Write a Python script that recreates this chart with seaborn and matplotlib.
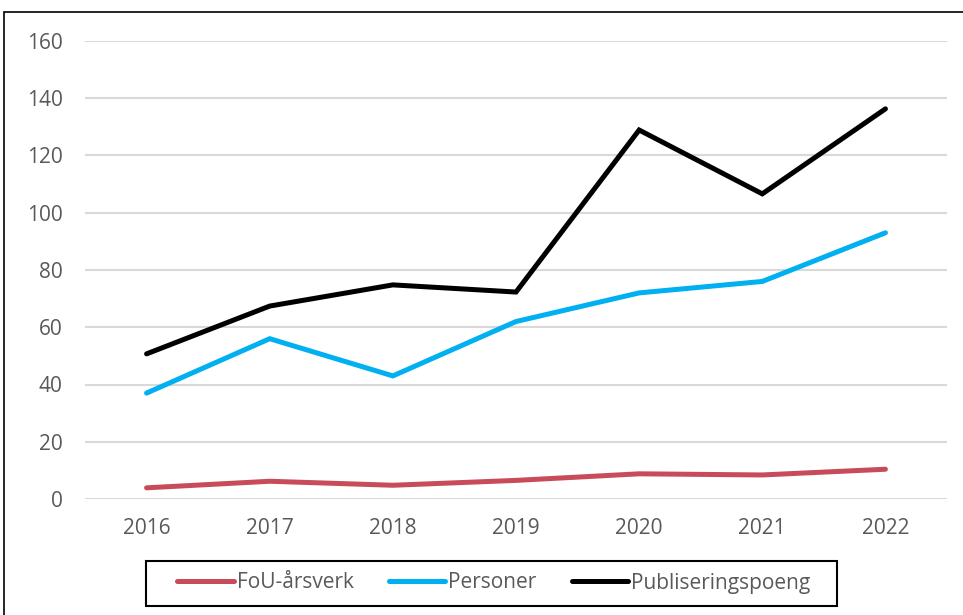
import pandas as pd
import matplotlib.pyplot as plt
import matplotlib.patches as patches
import seaborn as sns

# Data
years = ['2016', '2017', '2018', '2019', '2020', '2021', '2022']
fou_arsverk = [3.9, 6.2, 4.8, 6.5, 8.8, 8.4, 10.4]
personer = [37, 56, 43, 62, 72, 76, 93]
publiseringspoeng = [50.7, 67.4, 74.8, 72.3, 128.9, 106.6, 136.3]

series_names = ['FoU-årsverk', 'Personer', 'Publiseringspoeng']
colors = ['#C84B5A', '#00B0F0', '#000000']

df = pd.DataFrame({'År': years * 3,
                   'Verdi': fou_arsverk + personer + publiseringspoeng,
                   'Serie': [s for s in series_names for _ in years]})

sns.set_theme(style='white')
plt.rcParams['font.family'] = ['Open Sans', 'DejaVu Sans']

fig = plt.figure(figsize=(9.63, 6.15), dpi=100)
ax = fig.add_axes([85 / 963, 116 / 615, 862 / 963, 458 / 615])

sns.lineplot(data=df, x='År', y='Verdi', hue='Serie', palette=colors,
             linewidth=3.6, ax=ax, sort=False, legend=True)
for line in ax.lines:
    line.set_solid_capstyle('round')
    line.set_solid_joinstyle('miter')

ax.set_xlim(-0.5, 6.5)
ax.set_ylim(0, 160)
ax.set_yticks(range(0, 161, 20))
ax.yaxis.grid(True, color='#D9D9D9', linewidth=1.5)
ax.set_axisbelow(True)
for sp in ax.spines.values():
    sp.set_visible(False)
ax.tick_params(axis='both', length=0, labelsize=15, labelcolor='#595959')
ax.tick_params(axis='y', pad=16)
ax.tick_params(axis='x', pad=14)
ax.set_xlabel('')
ax.set_ylabel('')

handles, labels = ax.get_legend_handles_labels()
for h in handles:
    h.set_linewidth(3.6)
    h.set_solid_capstyle('round')
leg = ax.legend(handles, labels, loc='center', bbox_to_anchor=(494 / 963, (615 - 583) / 615),
                bbox_transform=fig.transFigure, ncol=3, frameon=False,
                fontsize=15, handlelength=2.7, handletextpad=0.15, columnspacing=1.7,
                borderpad=0, borderaxespad=0, labelcolor='#595959')

# legend box
fig.patches.append(patches.Rectangle((146 / 963, (615 - 606) / 615), 691 / 963, 45 / 615,
                                     transform=fig.transFigure, fill=False,
                                     edgecolor='black', linewidth=1.5))

# outer chart border
fig.patches.append(patches.Rectangle((4 / 963, -0.05), 1.1, (615 - 12) / 615 + 0.05,
                                     transform=fig.transFigure, fill=False,
                                     edgecolor='black', linewidth=1.2))

fig.savefig('out.png', dpi=100)
